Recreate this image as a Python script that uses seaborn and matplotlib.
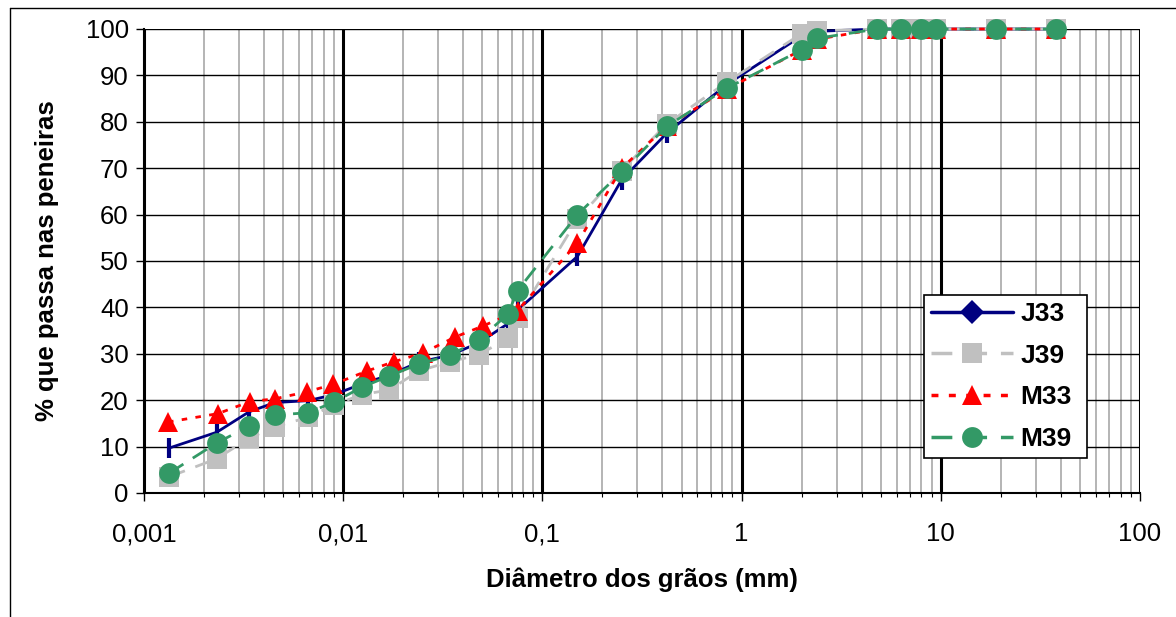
import matplotlib
matplotlib.use("Agg")
import matplotlib.pyplot as plt
import matplotlib.ticker as mticker
from matplotlib.lines import Line2D
import seaborn as sns
import pandas as pd

# ---- data ----
x_j33 = [0.00134, 0.00232, 0.00337, 0.00455, 0.00666, 0.0090, 0.0124, 0.0170, 0.0240,
         0.0344, 0.0481, 0.0672, 0.075, 0.15, 0.25, 0.42, 0.84, 2.0, 2.4, 4.8, 6.3, 8.0, 9.5, 19, 38]
y_j33 = [9.7, 13.1, 17.5, 19.5, 19.9, 21.2, 23.5, 25.4, 28.2, 29.7, 32.4, 36.5, 39.4,
         51.0, 67.5, 77.5, 88.0, 98.5, 99.5, 100, 100, 100, 100, 100, 100]

x_j39 = [0.00134, 0.00232, 0.00337, 0.00455, 0.00666, 0.0090, 0.0124, 0.0170, 0.0240,
         0.0344, 0.0481, 0.0672, 0.075, 0.15, 0.25, 0.42, 0.84, 2.0, 2.4, 4.8, 6.3, 8.0, 9.5, 19, 38]
y_j39 = [3.5, 7.4, 11.8, 14.3, 16.3, 19.0, 21.2, 22.2, 26.3, 28.3, 29.8, 33.4, 37.8,
         59.0, 69.5, 79.5, 88.5, 99.0, 99.6, 100, 100, 100, 100, 100, 100]

x_m33 = [0.00132, 0.00235, 0.0034, 0.00454, 0.00657, 0.0089, 0.0132, 0.0180, 0.0252,
         0.0364, 0.0504, 0.075, 0.15, 0.25, 0.42, 0.84, 2.0, 2.4, 4.8, 6.3, 8.0, 9.5, 19, 38]
y_m33 = [15.3, 17.1, 19.7, 20.3, 21.8, 23.4, 26.3, 28.3, 30.2, 33.6, 36.0, 39.3,
         53.9, 70.0, 79.0, 87.0, 95.5, 97.8, 100, 100, 100, 100, 100, 100]

x_m39 = [0.00134, 0.00232, 0.00337, 0.00455, 0.00666, 0.0090, 0.0124, 0.0170, 0.0240,
         0.0344, 0.0481, 0.0672, 0.075, 0.15, 0.25, 0.42, 0.84, 2.0, 2.4, 4.8, 6.3, 8.0, 9.5, 19, 38]
y_m39 = [4.3, 10.8, 14.4, 16.8, 17.3, 19.6, 22.8, 25.2, 27.8, 29.7, 33.0, 38.6, 43.6,
         60.0, 69.2, 79.0, 87.2, 95.5, 98.0, 100, 100, 100, 100, 100, 100]

series_names = ["J33", "J39", "M33", "M39"]
x_ticks = [0.001, 0.01, 0.1, 1, 10, 100]
x_tick_labels = ["0,001", "0,01", "0,1", "1", "10", "100"]
y_ticks = [0, 10, 20, 30, 40, 50, 60, 70, 80, 90, 100]
x_label = "Diâmetro dos grãos (mm)"
y_label = "% que passa nas peneiras"

# ---- style ----
sns.set_theme(style="white")
plt.rcParams["font.family"] = ["Liberation Sans", "DejaVu Sans"]
plt.rcParams["text.color"] = "black"
plt.rcParams["axes.labelcolor"] = "black"
plt.rcParams["xtick.color"] = "black"
plt.rcParams["ytick.color"] = "black"

fig = plt.figure(figsize=(11.76, 6.17), dpi=100)
ax = fig.add_axes([144 / 1176, 1 - 493 / 617, (1140 - 144) / 1176, (493 - 29) / 617])
ax.set_xscale("log")

styles = {
    "J33": dict(color="#000080", linestyle="-", marker="|", markersize=14, markeredgewidth=3, linewidth=2.0),
    "J39": dict(color="#C0C0C0", linestyle=(0, (6, 4)), marker="s", markersize=14, markeredgewidth=0, linewidth=2.0),
    "M33": dict(color="#FF0000", linestyle=(0, (2, 3)), marker="^", markersize=15, markeredgewidth=0, linewidth=2.0),
    "M39": dict(color="#339966", linestyle=(0, (6, 4)), marker="o", markersize=15, markeredgewidth=0, linewidth=2.0),
}
data = {"J33": (x_j33, y_j33), "J39": (x_j39, y_j39), "M33": (x_m33, y_m33), "M39": (x_m39, y_m39)}

for i, name in enumerate(series_names):
    xs, ys = data[name]
    df = pd.DataFrame({"x": xs, "y": ys})
    st = styles[name]
    sns.lineplot(data=df, x="x", y="y", ax=ax, sort=False, estimator=None,
                 color=st["color"], linestyle=st["linestyle"], marker=st["marker"],
                 markersize=st["markersize"], markeredgewidth=st["markeredgewidth"],
                 markeredgecolor=st["color"], markerfacecolor=st["color"],
                 linewidth=st["linewidth"], zorder=3 + i, clip_on=False, legend=False)

ax.set_xlim(0.001, 100)
ax.set_ylim(0, 100)

# grid
ax.xaxis.set_major_locator(mticker.FixedLocator(x_ticks))
ax.xaxis.set_major_formatter(mticker.FixedFormatter(x_tick_labels))
ax.xaxis.set_minor_locator(mticker.LogLocator(base=10, subs=range(2, 10), numticks=20))
ax.xaxis.set_minor_formatter(mticker.NullFormatter())
ax.set_yticks(y_ticks)
ax.grid(False)
ax.grid(True, which="minor", axis="x", color="#A8A8A8", linewidth=1.2, zorder=0)
ax.grid(True, which="major", axis="x", color="black", linewidth=2.2, zorder=1)
ax.grid(True, which="major", axis="y", color="black", linewidth=1.0, zorder=1)
ax.set_axisbelow(True)

for s in ["top", "right"]:
    ax.spines[s].set_visible(False)
for s in ["left", "bottom"]:
    ax.spines[s].set_visible(True)
    ax.spines[s].set_color("black")
    ax.spines[s].set_linewidth(1.5)

ax.tick_params(axis="both", which="major", labelsize=18.5, colors="black", direction="out",
               length=6, width=1, left=True, bottom=True, pad=5)
ax.tick_params(axis="x", which="minor", direction="out", length=3, width=0.8, bottom=True)
ax.tick_params(axis="x", which="major", pad=15)

ax.set_xlabel(x_label, fontsize=18.5, fontweight="bold", labelpad=15, color="black")
ax.set_ylabel(y_label, fontsize=18.5, fontweight="bold", labelpad=19, color="black")

# legend with custom handles
handles = []
for name in series_names:
    st = styles[name]
    mk = "D" if name == "J33" else st["marker"]
    ms = 12 if name == "J33" else st["markersize"]
    handles.append(Line2D([0], [0], color=st["color"], linestyle=st["linestyle"], linewidth=2.5,
                          marker=mk, markersize=ms, markerfacecolor=st["color"],
                          markeredgecolor=st["color"], markeredgewidth=0))
leg = ax.legend(handles, series_names, loc="lower left", bbox_to_anchor=(0.783, 0.075, 0.164, 0.343),
                mode="expand", frameon=True, fancybox=False, shadow=False, handlelength=3.1,
                prop={"weight": "bold", "size": 19}, labelspacing=0.67, borderpad=0.27,
                handletextpad=0.3, borderaxespad=0)
for t in leg.get_texts():
    t.set_color("black")
leg.get_frame().set_edgecolor("black")
leg.get_frame().set_linewidth(1.2)
leg.get_frame().set_facecolor("white")
leg.get_frame().set_alpha(1)
leg.set_zorder(10)

# figure border
fig.add_artist(Line2D([10 / 1176, 10 / 1176], [1 - 8 / 617, 0], transform=fig.transFigure, color="black", linewidth=1))
fig.add_artist(Line2D([10 / 1176, 1], [1 - 8 / 617, 1 - 8 / 617], transform=fig.transFigure, color="black", linewidth=1))

fig.savefig("out.png", dpi=100)
